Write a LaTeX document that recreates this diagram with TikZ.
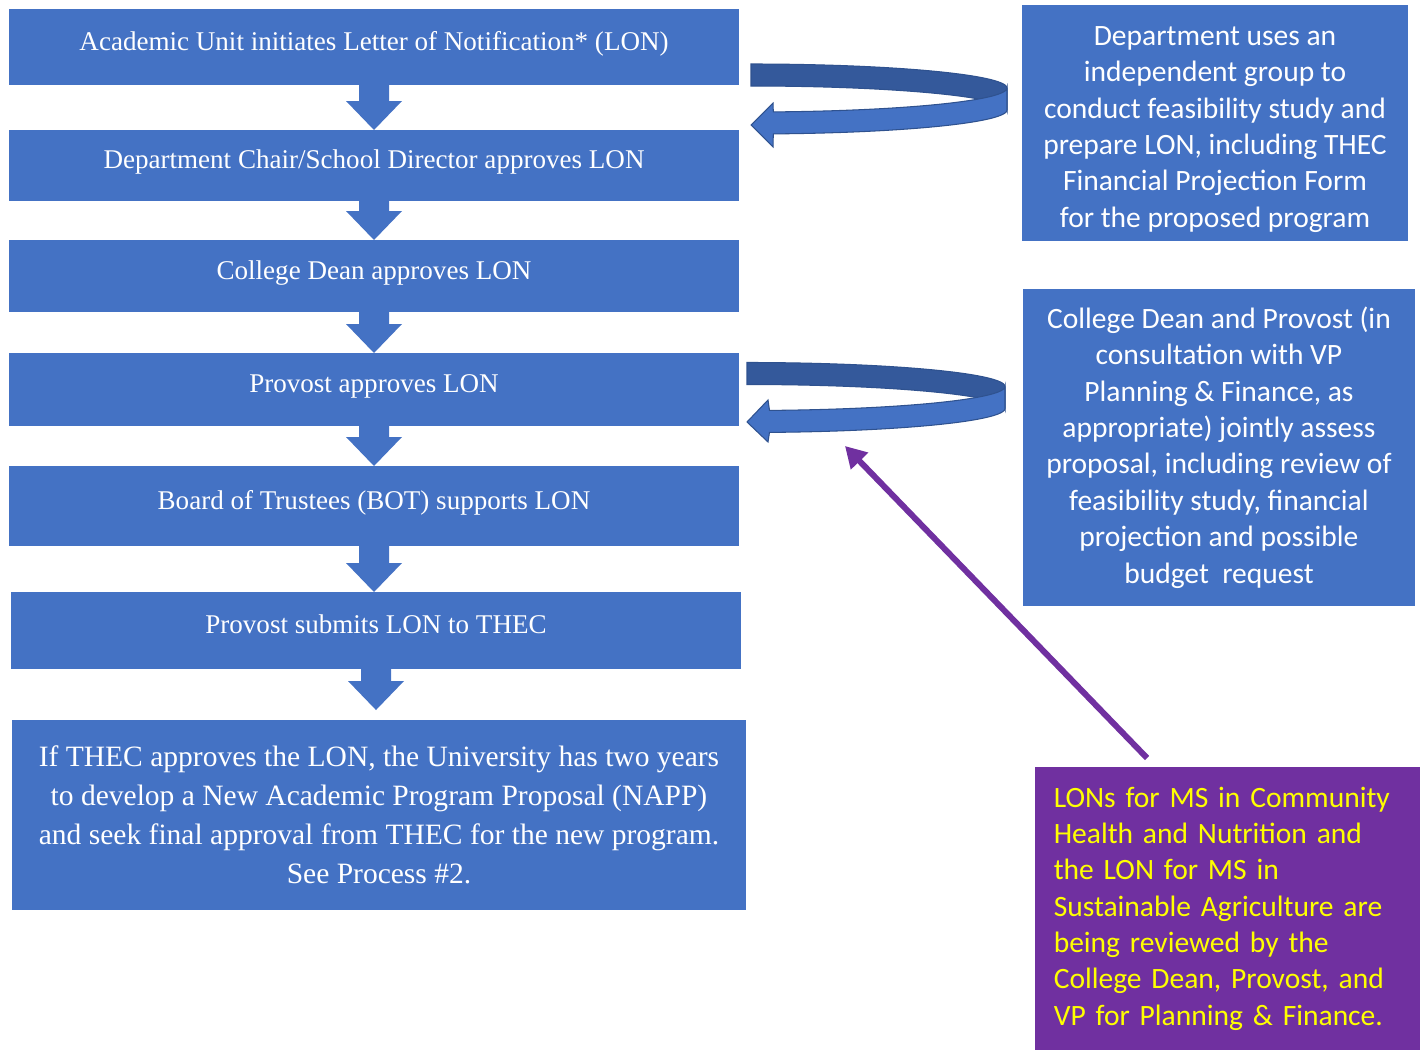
\documentclass[tikz,border=0pt]{standalone}
\usepackage{fontspec}
\setmainfont{Liberation Serif}
\newfontfamily\sidefont{Carlito}
\usetikzlibrary{calc,arrows.meta}
\definecolor{stepblue}{HTML}{4472C4}
\definecolor{loopdark}{HTML}{34599B}
\definecolor{loopedge}{HTML}{2F528F}
\definecolor{notepurple}{HTML}{7030A0}
\definecolor{noteyellow}{HTML}{FFFF00}
\tikzset{
  stepbox/.style={fill=stepblue, text=white, inner sep=0pt, outer sep=0pt,
    minimum width=14.6cm, font=\fontsize{15.4}{19}\selectfont,
    text height=10.5pt, text depth=6.7pt},
  finalbox/.style={fill=stepblue, text=white, inner sep=0pt, outer sep=0pt,
    align=center, font=\fontsize{16.8}{22.1}\selectfont},
  sidebox/.style={fill=stepblue, text=white, inner sep=0pt, outer sep=0pt,
    align=center, font=\sidefont\fontsize{16.8}{20.7}\selectfont},
  notebox/.style={fill=notepurple, text=noteyellow, inner sep=0pt, outer sep=0pt,
    align=left, text width=6.95cm, font=\sidefont\fontsize{16.8}{20.7}\selectfont},
  loopline/.style={draw=loopedge, line width=0.6pt}
}
\begin{document}
\begin{tikzpicture}[x=0.02cm,y=-0.02cm]
  \useasboundingbox (0,0) rectangle (1428,1051);
  % steps
  \node[stepbox, minimum height=1.52cm] (s1) at (374,47) {Academic Unit initiates Letter of Notification* (LON)};
  \node[stepbox, minimum height=1.42cm] (s2) at (374,165.5) {Department Chair/School Director approves LON};
  \node[stepbox, minimum height=1.44cm] (s3) at (374,276) {College Dean approves LON};
  \node[stepbox, minimum height=1.46cm] (s4) at (374,389.5) {Provost approves LON};
  \node[stepbox, minimum height=1.6cm] (s5) at (374,506) {Board of Trustees (BOT) supports LON};
  \node[stepbox, minimum height=1.54cm] (s6) at (376,630.5) {Provost submits LON to THEC};
  \node[finalbox, minimum width=14.68cm, minimum height=3.8cm] (s7) at (379,815)
    {If THEC approves the LON, the University has two years\\
     to develop a New Academic Program Proposal (NAPP)\\
     and seek final approval from THEC for the new program.\\
     See Process \#2.};
  % side notes
  \node[sidebox, minimum width=7.72cm, minimum height=4.72cm] (feas) at (1215,123)
    {\rule{0pt}{18pt}Department uses an\\independent group to\\conduct feasibility study and\\
     prepare LON, including THEC\\Financial Projection Form\\for the proposed program};
  \node[sidebox, minimum width=7.84cm, minimum height=6.34cm] (joint) at (1219,447.5)
    {College Dean and Provost (in\\consultation with VP\\Planning \& Finance, as\\
     appropriate) jointly assess\\proposal, including review of\\feasibility study, financial\\
     projection and possible\\budget\ \ request};
  \node[notebox, minimum width=7.7cm, minimum height=5.66cm] (status) at (1227.5,908.5)
    {LONs for MS in Community\\Health and Nutrition and\\the LON for MS in\\
     Sustainable Agriculture are\\being reviewed by the\\College Dean, Provost, and\\
     VP for Planning \& Finance.};
  % down arrows
  \coordinate (t7) at ($(s7.north)+(0,-10)$);
  \foreach \a/\b in {s1/s2.north, s2/s3.north, s3/s4.north, s4/s5.north, s5/s6.north, s6/t7}
    \fill[stepblue] ($(\a.south)+(-15,0)$) -- ($(\a.south |- \b)+(-15,-29)$)
      -- ($(\a.south |- \b)+(-28,-29)$) -- (\a.south |- \b)
      -- ($(\a.south |- \b)+(28,-29)$) -- ($(\a.south |- \b)+(15,-29)$)
      -- ($(\a.south)+(15,0)$) -- cycle;
  % loop back arrows
  \coordinate (loopA) at (751,99);
  \coordinate (loopB) at (747,397.5);
  \begin{scope}[shift={(loopA)}]
    \filldraw[fill=loopdark, loopline] plot[domain=-90:0, samples=40] ({256*cos(\x)},{24*sin(\x)-11})
      -- plot[domain=0:-90, samples=40] ({256*cos(\x)},{24*sin(\x)+11}) -- cycle;
    \filldraw[fill=stepblue, loopline] plot[domain=0:85, samples=40] ({256*cos(\x)},{24*sin(\x)-11})
      -- (22,4) -- (0,26) -- (22,48)
      -- plot[domain=85:0, samples=40] ({256*cos(\x)},{24*sin(\x)+11}) -- cycle;
  \end{scope}
  \begin{scope}[shift={(loopB)}]
    \filldraw[fill=loopdark, loopline] plot[domain=-90:0, samples=40] ({258*cos(\x)},{24*sin(\x)-11})
      -- plot[domain=0:-90, samples=40] ({258*cos(\x)},{24*sin(\x)+11}) -- cycle;
    \filldraw[fill=stepblue, loopline] plot[domain=0:85, samples=40] ({258*cos(\x)},{24*sin(\x)-11})
      -- (21,2.5) -- (0,24.5) -- (21,44.5)
      -- plot[domain=85:0, samples=40] ({258*cos(\x)},{24*sin(\x)+11}) -- cycle;
  \end{scope}
  % pointer from the note
  \coordinate (cTail) at ($(status.north west)+(112,-9)$);
  \coordinate (cTip) at (845,446);
  \draw[notepurple, line width=3.4pt, -{Triangle[length=0.42cm,width=0.46cm]}] (cTail) -- (cTip);
\end{tikzpicture}
\end{document}
